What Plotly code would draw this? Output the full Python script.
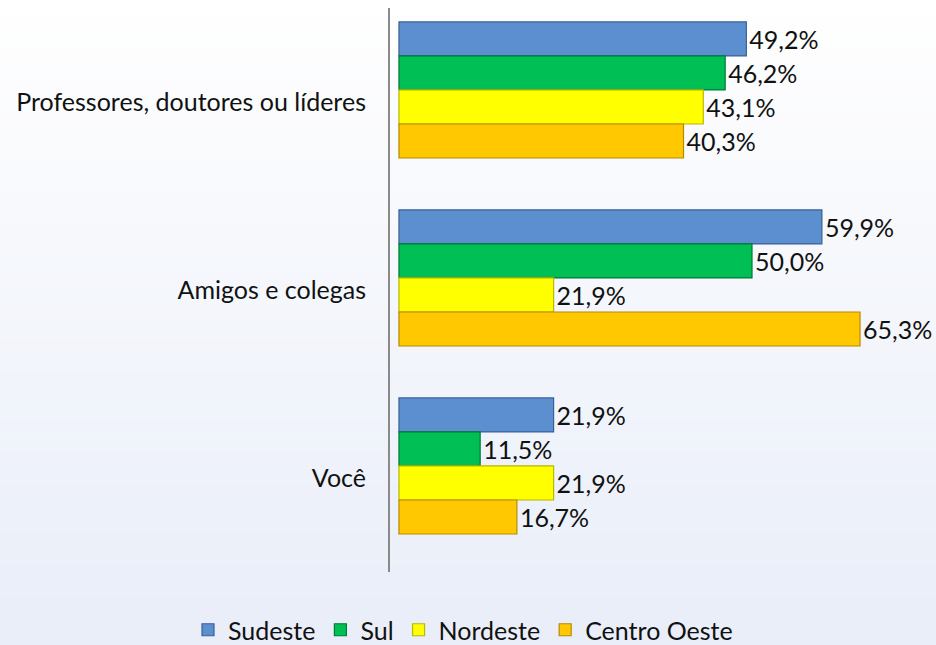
import plotly.graph_objects as go

categories = ["Professores, doutores ou líderes", "Amigos e colegas", "Você"]
series_names = ["Sudeste", "Sul", "Nordeste", "Centro Oeste"]
sudeste = [49.2, 59.9, 21.9]
sul = [46.2, 50.0, 11.5]
nordeste = [43.1, 21.9, 21.9]
centro_oeste = [40.3, 65.3, 16.7]
series_values = [sudeste, sul, nordeste, centro_oeste]

fill_colors = ["#5b8fd0", "#00bf55", "#ffff00", "#ffc800"]
line_colors = ["#3a6096", "#007a36", "#b8b800", "#b88a00"]
font_fam = "Lato, 'Open Sans', sans-serif"

W, H = 936, 645
ml, mr, mt, mb = 390, 0, 8, H - 572

fig = go.Figure()
bar_w = 0.181
offsets = [-0.426, -0.245, -0.064, 0.117]
for name, vals, fc, lc, off in zip(series_names, series_values, fill_colors, line_colors, offsets):
    fig.add_trace(go.Bar(
        y=categories, x=vals, name=name, orientation="h",
        width=bar_w, offset=off,
        marker=dict(color=fc, line=dict(color=lc, width=1.2)),
        text=[f"{v:.1f}%".replace(".", ",") for v in vals],
        textposition="outside", cliponaxis=False,
        textfont=dict(size=25, color="#111111", family=font_fam),
    ))

# background gradient (white at top to pale blue at bottom)
shapes = []
n = 40
ph = H - mt - mb
pw = W - ml - mr
for i in range(n):
    t = i / (n - 1)
    r = int(255 + (233 - 255) * t)
    g = int(255 + (238 - 255) * t)
    b = int(255 + (249 - 255) * t)
    shapes.append(dict(type="rect", xref="paper", yref="paper",
                       x0=-ml / pw, x1=1.0 + mr / pw,
                       y0=1 + mt / ph - (i + 1) * (H / ph) / n,
                       y1=1 + mt / ph - i * (H / ph) / n,
                       fillcolor=f"rgb({r},{g},{b})", line=dict(width=0), layer="below"))

fig.update_layout(
    width=W, height=H,
    margin=dict(l=ml, r=mr, t=mt, b=mb, pad=0, autoexpand=False),
    barmode="overlay",
    paper_bgcolor="#f3f6fc", plot_bgcolor="rgba(0,0,0,0)",
    shapes=shapes,
    showlegend=True,
    legend=dict(orientation="h", x=(463 - ml) / pw, xanchor="center", xref="paper",
                y=-(630 - 572) / ph, yanchor="middle", yref="paper",
                font=dict(size=25, color="#111111", family=font_fam),
                itemwidth=30, traceorder="normal", bgcolor="rgba(0,0,0,0)"),
    xaxis=dict(range=[-1.27, 76.06], showgrid=False, zeroline=False,
               showticklabels=False, ticks="", showline=False, automargin=False),
    yaxis=dict(autorange="reversed", showgrid=False, zeroline=False,
               showline=True, linecolor="#8a8a8a", linewidth=2, automargin=False,
               ticks="", ticklabelstandoff=17,
               tickfont=dict(size=25, color="#111111", family=font_fam)),
    font=dict(family=font_fam),
)

fig.write_html("out.html", config={"displayModeBar": False},
               post_script="document.body.style.margin='0';document.body.style.overflow='hidden';")
